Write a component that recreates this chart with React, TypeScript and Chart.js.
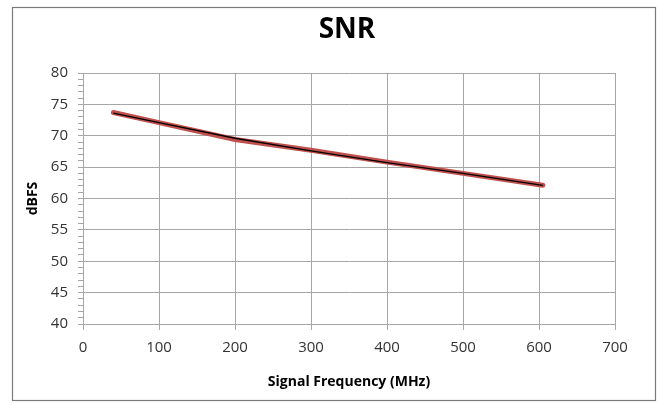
import React, { useEffect, useRef } from "react";
import { Chart, registerables } from "chart.js";

Chart.register(...registerables);

const titleText = "SNR";
const xTitle = "Signal Frequency (MHz)";
const yTitle = "dBFS";

const freqMHz = [40, 100, 200, 300, 400, 500, 605];
const snrBlack = [73.6, 72.1, 69.6, 67.6, 65.7, 64.0, 62.1];
const snrRed = [73.7, 72.1, 69.4, 67.7, 65.8, 64.0, 62.1];

const xTicks = [0, 100, 200, 300, 400, 500, 600, 700];
const yMin = 40;
const yMax = 80;
const yLabelStep = 5;

const FONT = "'Open Sans', 'DejaVu Sans', sans-serif";

const framePlugin = {
  id: "frameAndTitle",
  beforeDraw(chart: any) {
    const { ctx, width, height } = chart;
    ctx.save();
    ctx.fillStyle = "#ffffff";
    ctx.fillRect(0, 0, width, height);
    ctx.restore();
  },
  afterDraw(chart: any) {
    const { ctx, chartArea } = chart;
    ctx.save();
    ctx.strokeStyle = "#7a7a7a";
    ctx.lineWidth = 1.2;
    ctx.strokeRect(12.5, 7.5, 643, 393);
    ctx.fillStyle = "#000000";
    ctx.font = `bold 28px ${FONT}`;
    ctx.textAlign = "center";
    ctx.textBaseline = "middle";
    ctx.fillText(titleText, (chartArea.left + chartArea.right) / 2 - 2, 30);
    ctx.restore();
  },
};

export default function App() {
  const ref = useRef<HTMLCanvasElement>(null);

  useEffect(() => {
    document.body.style.margin = "0";
    const canvas = ref.current!;
    const chart = new Chart(canvas, {
      type: "scatter",
      data: {
        datasets: [
          {
            label: "black",
            data: freqMHz.map((x, i) => ({ x, y: snrBlack[i] })),
            borderColor: "#000000",
            borderWidth: 1.3,
            showLine: true,
            pointRadius: 0,
            tension: 0,
          },
          {
            label: "red",
            data: freqMHz.map((x, i) => ({ x, y: snrRed[i] })),
            borderColor: "#c0504d",
            borderWidth: 5,
            borderCapStyle: "round",
            showLine: true,
            pointRadius: 0,
            tension: 0,
          },
        ],
      },
      options: {
        responsive: false,
        animation: false,
        devicePixelRatio: 1,
        layout: { padding: { top: 73, right: 51, left: 12, bottom: 8 } },
        plugins: {
          legend: { display: false },
          tooltip: { enabled: false },
          title: { display: false },
        },
        scales: {
          x: {
            type: "linear",
            min: xTicks[0],
            max: xTicks[xTicks.length - 1],
            afterBuildTicks: (scale: any) => {
              scale.ticks = xTicks.map((v) => ({ value: v }));
            },
            afterFit: (scale: any) => {
              scale.height = 76;
            },
            ticks: {
              color: "#333333",
              font: { family: FONT, size: 15 },
              padding: 9,
              maxRotation: 0,
              autoSkip: false,
            },
            grid: {
              color: "#a6a6a6",
              tickColor: "#a6a6a6",
              tickLength: 6,
              lineWidth: 1,
            },
            border: { color: "#a6a6a6" },
            title: {
              display: true,
              text: xTitle,
              color: "#000000",
              font: { family: FONT, size: 14, weight: "bold" },
              padding: { top: 0, bottom: 10 },
            },
          },
          y: {
            type: "linear",
            min: yMin,
            max: yMax,
            ticks: {
              stepSize: 1,
              autoSkip: false,
              color: "#333333",
              font: { family: FONT, size: 15 },
              padding: 10,
              callback: (v: any) => (Number(v) % yLabelStep === 0 ? String(v) : ""),
            },
            afterFit: (scale: any) => {
              scale.width = 71;
            },
            grid: {
              color: (c: any) =>
                c.tick && c.tick.value % yLabelStep === 0 ? "#a6a6a6" : "rgba(0,0,0,0)",
              tickColor: "#a6a6a6",
              tickLength: 5,
              lineWidth: 1,
            },
            border: { color: "#a6a6a6" },
            title: {
              display: true,
              text: yTitle,
              color: "#000000",
              font: { family: FONT, size: 14, weight: "bold" },
              padding: { top: 13, bottom: 0 },
            },
          },
        },
      },
      plugins: [framePlugin],
    });
    return () => chart.destroy();
  }, []);

  return <canvas ref={ref} width={666} height={408} style={{ display: "block", width: 666, height: 408 }} />;
}
